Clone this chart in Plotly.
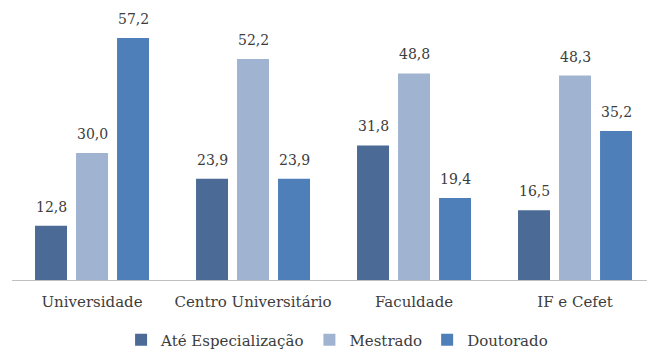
import plotly.graph_objects as go

categorias = ["Universidade", "Centro Universitário", "Faculdade", "IF e Cefet"]
ate_especializacao = [12.8, 23.9, 31.8, 16.5]
mestrado = [30.0, 52.2, 48.8, 48.3]
doutorado = [57.2, 23.9, 19.4, 35.2]

series = [
    ("Até Especialização", ate_especializacao, "#4b6a96"),
    ("Mestrado", mestrado, "#a0b3d1"),
    ("Doutorado", doutorado, "#4f7fb8"),
]

fonte = "DejaVu Serif"
cor_texto = "#3c3c3c"


def rotulo(v):
    return f"{v:.1f}".replace(".", ",")


fig = go.Figure()
for nome, valores, cor in series:
    fig.add_trace(go.Bar(
        name=nome,
        x=categorias,
        y=valores,
        marker=dict(color=cor, line=dict(width=0)),
        hovertemplate="%{x}: %{y}<extra>" + nome + "</extra>",
    ))

# value labels above each bar, offset to the bar's slot in the group
slot_px = 41
for i, (nome, valores, cor) in enumerate(series):
    for cat, v in zip(categorias, valores):
        fig.add_annotation(
            x=cat, y=v, xref="x", yref="y",
            text=rotulo(v),
            showarrow=False,
            xshift=(i - 1) * slot_px,
            yanchor="bottom",
            yshift=9,
            font=dict(family=fonte, size=14, color=cor_texto),
        )

fig.update_layout(
    width=647,
    height=349,
    font=dict(family=fonte, color=cor_texto),
    margin=dict(l=12, r=0, t=10, b=69),
    paper_bgcolor="white",
    plot_bgcolor="white",
    barmode="group",
    bargap=0.236,
    bargroupgap=0.22,
    showlegend=True,
    legend=dict(
        orientation="h",
        xref="container", yref="container",
        x=0.521, xanchor="center",
        y=0.026, yanchor="middle",
        font=dict(family=fonte, size=15, color=cor_texto),
        itemwidth=30,
        tracegroupgap=0,
    ),
    xaxis=dict(
        range=[-0.497, 3.447],
        showline=True,
        linecolor="#c0c0c0",
        linewidth=1,
        ticks="",
        showgrid=False,
        ticklabelstandoff=8,
        tickfont=dict(family=fonte, size=15, color=cor_texto),
    ),
    yaxis=dict(
        range=[0, 63.8],
        visible=False,
        showgrid=False,
        zeroline=False,
    ),
)

fig.write_html("out.html")
